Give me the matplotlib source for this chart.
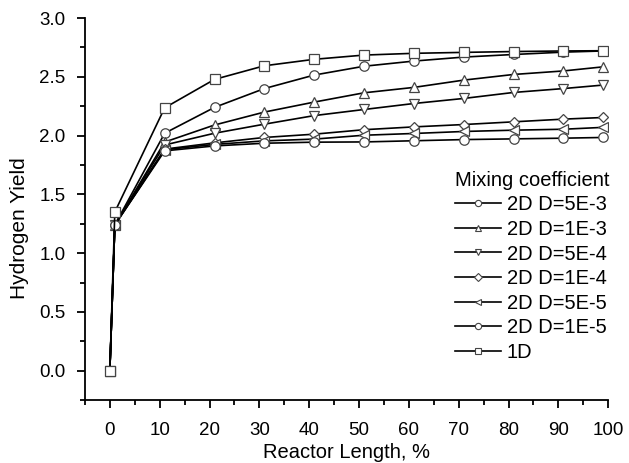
import matplotlib
matplotlib.use("Agg")
import matplotlib.pyplot as plt
from matplotlib.lines import Line2D
from matplotlib.ticker import MultipleLocator, FormatStrFormatter

plt.rcParams['font.family'] = ['Liberation Sans', 'DejaVu Sans']

# Axial positions along the reactor (%)
reactor_length = [0, 1, 11, 21, 31, 41, 51, 61, 71, 81, 91, 99]

# Hydrogen yield for each mixing coefficient
d_5e3 = [0.0, 1.24, 2.02, 2.24, 2.40, 2.515, 2.59, 2.634, 2.668, 2.69, 2.71, 2.72]
d_1e3 = [0.0, 1.24, 1.945, 2.09, 2.20, 2.285, 2.364, 2.41, 2.472, 2.52, 2.55, 2.585]
d_5e4 = [0.0, 1.24, 1.92, 2.02, 2.097, 2.17, 2.222, 2.273, 2.316, 2.367, 2.40, 2.43]
d_1e4 = [0.0, 1.24, 1.885, 1.938, 1.984, 2.012, 2.05, 2.074, 2.094, 2.117, 2.14, 2.154]
d_5e5 = [0.0, 1.24, 1.88, 1.925, 1.955, 1.97, 2.003, 2.018, 2.035, 2.046, 2.054, 2.07]
d_1e5 = [0.0, 1.24, 1.87, 1.912, 1.935, 1.944, 1.946, 1.956, 1.966, 1.972, 1.978, 1.984]
one_d = [0.0, 1.35, 2.236, 2.478, 2.594, 2.649, 2.685, 2.70, 2.708, 2.715, 2.72, 2.722]

labels = ["2D D=5E-3", "2D D=1E-3", "2D D=5E-4", "2D D=1E-4",
          "2D D=5E-5", "2D D=1E-5", "1D"]
markers = ["o", "^", "v", "D", "<", "o", "s"]
series = [d_5e3, d_1e3, d_5e4, d_1e4, d_5e5, d_1e5, one_d]

fig = plt.figure(figsize=(6.29, 4.63), dpi=100)
ax = fig.add_axes([0.135, 0.136, 0.832, 0.825])

edge = "#444444"
for vals, mk in zip(series, markers):
    ms = 5.2 if mk == "D" else 6.8
    ax.plot(reactor_length, vals, color="black", lw=1.2, marker=mk,
            markersize=ms, markerfacecolor="white", markeredgecolor=edge,
            markeredgewidth=0.9)

ax.set_xlim(-5, 100)
ax.set_ylim(-0.25, 3.0)
ax.xaxis.set_major_locator(MultipleLocator(10))
ax.xaxis.set_minor_locator(MultipleLocator(5))
ax.yaxis.set_major_locator(MultipleLocator(0.5))
ax.yaxis.set_minor_locator(MultipleLocator(0.25))
ax.yaxis.set_major_formatter(FormatStrFormatter('%.1f'))

for side in ("top", "right"):
    ax.spines[side].set_visible(False)
for side in ("left", "bottom"):
    ax.spines[side].set_linewidth(1.3)

ax.tick_params(which="major", direction="out", length=6, width=1.3,
               labelsize=13.5)
ax.tick_params(axis="x", which="major", pad=10)
ax.tick_params(axis="y", which="major", pad=8)
ax.tick_params(which="minor", direction="out", length=3.5, width=1.3)

ax.set_xlabel("Reactor Length, %", fontsize=14.5, labelpad=3)
ax.set_ylabel("Hydrogen Yield", fontsize=15, labelpad=9)
ax.yaxis.set_label_coords(-0.107, 0.45)

handles = []
for lab, mk in zip(labels, markers):
    ms = 3.6 if mk == "D" else 4.5
    handles.append(Line2D([], [], color="black", lw=1.2, marker=mk,
                          markersize=ms, markerfacecolor="white",
                          markeredgecolor=edge, markeredgewidth=0.8,
                          label=lab))
leg = ax.legend(handles=handles, title="Mixing coefficient", frameon=False,
                loc="center right", bbox_to_anchor=(1.017, 0.35),
                fontsize=14.5, title_fontsize=14.5, handlelength=2.3,
                handletextpad=0.3, labelspacing=0.28, borderaxespad=0.0)
leg._legend_box.align = "left"

fig.savefig("out.png", dpi=100)
